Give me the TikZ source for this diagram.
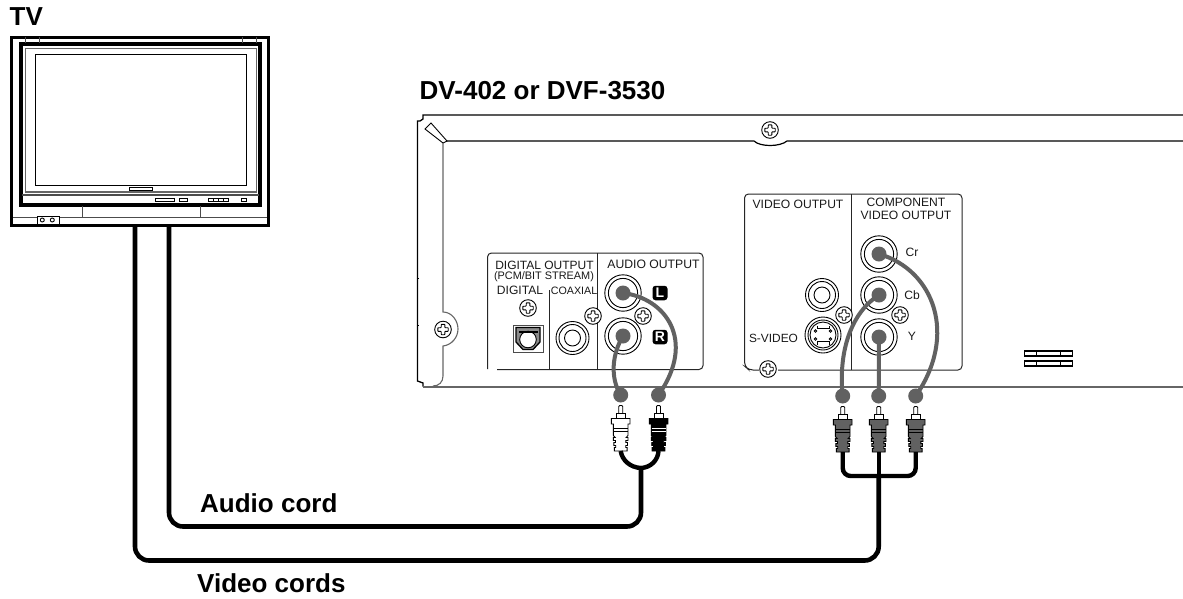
\documentclass[tikz,border=0pt]{standalone}
\usepackage{fontspec}
\setmainfont{Liberation Sans}
\tikzset{
  thin line/.style={line width=1pt,black!85},
  gray line/.style={line width=1.3pt,black!60},
  tvheavy/.style={line width=3.4pt,black},
  small/.style={line width=0.9pt,black},
  cord/.style={line width=4.6pt,black,rounded corners=14pt},
  fork/.style={line width=4.4pt,black,rounded corners=8pt},
  lead/.style={line width=4pt,black!62,line cap=round},
  dot/.style={circle,fill=black!62,inner sep=0pt,minimum size=15pt},
  title/.style={anchor=west,inner sep=0pt,font=\fontsize{26}{26}\bfseries},
  lab/.style={inner sep=0pt,font=\fontsize{12.1}{13}\selectfont,black!90,align=center},
  badge/.style={rectangle,rounded corners=3pt,fill=black,text=white,inner sep=0pt,minimum width=15pt,minimum height=14.5pt,font=\fontsize{14}{14}\bfseries},
  screw/.pic={
    \draw[line width=.9pt,fill=white] (0,0) circle (8.3);
    \draw[line width=.9pt,fill=white,rounded corners=.6pt]
      (-1.8,-5.2)--(1.8,-5.2)--(1.8,-1.8)--(5.2,-1.8)--(5.2,1.8)--(1.8,1.8)--(1.8,5.2)--(-1.8,5.2)--(-1.8,1.8)--(-5.2,1.8)--(-5.2,-1.8)--(-1.8,-1.8)--cycle;
  },
  jack/.pic={
    \draw[line width=.9pt,fill=white] (0,0) circle (18.2);
    \draw[line width=.9pt] (0,0) circle (14.6);
  },
  rca/.pic={
    \draw[line width=.9pt,fill=white] (0,0) circle (16.5);
    \draw[line width=.9pt] (0,0) circle (13.5);
    \draw[line width=.9pt] (0,0) circle (8);
  },
}
\newcommand{\plugdraw}[4]{%
  \begin{scope}[shift={(#1,#2)}]
    \draw[line width=.9pt,fill=white] (-2,8)--(-2,1)--(-1,0)--(1,0)--(2,1)--(2,8)--cycle;
    \draw[line width=.9pt,fill=white] (-4.5,14)--(-4.5,7.5)--(4.5,7.5)--(4.5,14)--cycle;
    \fill[#3,draw=black,line width=.9pt] (-9.3,13)--(9.3,13)--(9.3,18.5)--(7.3,18.5)--(7.3,30)--(5.5,32)--(7.3,32)--(7.3,35)--(5.2,35)--(5.2,37)--(6.8,37)--(6.8,40)--(5,40)--(5,42)--(6.4,42)--(6.4,45.5)--(-6.4,45.5)--(-6.4,42)--(-5,42)--(-5,40)--(-6.8,40)--(-6.8,37)--(-5.2,37)--(-5.2,35)--(-7.3,35)--(-7.3,32)--(-5.5,32)--(-7.3,30)--(-7.3,18.5)--(-9.3,18.5)--cycle;
    \draw[line width=1pt,#4] (-7,22.5)--(7,22.5) (-7,25.5)--(7,25.5);
  \end{scope}}
\begin{document}
\begin{tikzpicture}[x=1pt,y=-1pt]
\useasboundingbox (0,0) rectangle (1183,598);
\fill[white] (0,0) rectangle (1183,598);

% ---- labels
\node[title] (tvlabel) at (9.5,17) {TV};
\node[title] (dvlabel) at (419.5,91) {DV-402 or DVF-3530};
\node[title] (audiolabel) at (200,503) {Audio cord};
\node[title] (videolabel) at (197,583.5) {Video cords};

% ---- TV
\coordinate (tvA) at (135,225);
\coordinate (tvB) at (169,225);
\draw[tvheavy] (11.5,37.5) rectangle (268.5,225.5);
\draw[tvheavy] (21,44) rectangle (260,205);
\draw[gray line,line width=1.2pt] (25.5,48.5) rectangle (256.5,192);
\draw[line width=1.1pt] (35.3,54.3) rectangle (246.7,185.7);
\draw[small,fill=white] (129.5,187) rectangle (152.7,190.8);
\draw[line width=1.2pt,black!70] (22,195) -- (259,195);
\foreach \a/\b in {155.5/174.5,179.5/187,241.5/246.5}
  \draw[small] (\a,198.2) rectangle (\b,201.6);
\draw[small] (208.5,198) rectangle (228,201.4);
\foreach \a in {213.5,218.5,223.5} \draw[small] (\a,198) -- (\a,201.4);
\foreach \a in {25.5,39.5,242.5,256.5} \draw[small,black!70] (\a,37) -- (\a,43);
\draw[small,black!70] (13,217.5) -- (267,217.5) (82,206) -- (82,217.5) (200,206) -- (200,217.5);
\draw[small,fill=white] (37,216) rectangle (59,224);
\draw[small] (42.3,220) circle (2) (52.3,220) circle (2);

% ---- chassis
\draw[line width=1.3pt] (1183,115) -- (423,115) -- (423,119) -- (420,121) -- (417.5,121) -- (417.5,381) -- (423,383) -- (423,386.5);
\draw[small] (417.5,278) -- (419,278) (417.5,325) -- (419,325);
\draw[gray line] (423,387) -- (1183,387);
\draw[line width=1.2pt] (1183,141) -- (787,141) .. controls (780,147) and (760,147) .. (754,141) -- (444,141);
\draw[small,fill=white] (425,129) -- (431,123) -- (447,141) -- (443,143) -- cycle;
\draw[gray line,line width=1.1pt] (443,143) -- (443,312) .. controls (452,312) and (458,321) .. (458,329) .. controls (458,337) and (452,345) .. (443,346) -- (443,376) .. controls (443,382) and (439,386) .. (433,386);
\pic at (443,329.5) {screw};
\pic at (770,130) {screw};
\foreach \y in {351,361} {
  \draw[line width=1.1pt] (1024.5,\y) rectangle (1072.5,\y+5);
  \draw[small] (1036.5,\y) -- (1036.5,\y+5) (1060,\y) -- (1060,\y+5);
}

% ---- audio panel
\draw[thin line,rounded corners=4pt] (487.5,369) -- (487.5,253) -- (703,253) -- (703,369.5) -- (497,369.5);
\draw[thin line] (597.5,253) -- (597.5,369.5) (549.5,290) -- (549.5,369.5);
\node[lab,font=\fontsize{12}{13}\selectfont] (dout) at (544.5,265) {DIGITAL OUTPUT};
\node[lab,font=\fontsize{10.9}{11}\selectfont] (pcm) at (544,276.5) {(PCM/BIT STREAM)};
\node[lab] (dig) at (520,290.5) {DIGITAL};
\node[lab,font=\fontsize{10.7}{11}\selectfont] (coax) at (574,290.5) {COAXIAL};
\node[lab,font=\fontsize{12.2}{13}\selectfont] (aout) at (653.5,264.5) {AUDIO OUTPUT};
\pic at (528,308) {screw};
% optical
\draw[small,black!70,fill=white] (513,325) rectangle (543,352);
\draw[line width=1.3pt,fill=black!45] (516,327.5) -- (540,327.5) -- (540,342) -- (533,349.5) -- (523,349.5) -- (516,342) -- cycle;
\draw[small,fill=white] (528,339.5) circle (8.3);
\draw[small,fill=white] (519,331) -- (537,331) -- (537,332.5) -- (519,332.5) -- cycle;
\pic at (572.5,338) {rca};
\pic at (623,293) {jack};
\pic at (623,336) {jack};
\pic at (593,316) {screw};
\pic at (643,316) {screw};
\node[badge] (lbadge) at (660,293) {L};
\node[badge] (rbadge) at (660,337) {R};

% ---- video panel
\draw[thin line,rounded corners=4pt] (759,370) -- (749,370) -- (744.5,366) -- (744.5,194) -- (962,194) -- (962,370) -- (778,370);
\draw[thin line] (851,194) -- (851,370);
\node[lab] (vout) at (798,204) {VIDEO OUTPUT};
\node[lab] (comp) at (906,202.5) {COMPONENT};
\node[lab] (cvout) at (906,215.5) {VIDEO OUTPUT};
\node[lab] (cr) at (912,252.5) {Cr};
\node[lab] (cb) at (912,295) {Cb};
\node[lab] (yl) at (912,336) {Y};
\node[lab,font=\fontsize{11.9}{13}\selectfont] (sv) at (773.5,338) {S-VIDEO};
\pic at (768,369) {screw};
\pic at (822,295) {rca};
\draw[line width=.9pt,fill=white] (823,335) circle (18);
\draw[line width=.9pt] (823,335) circle (15);
\draw[line width=.9pt] (823,335) circle (13);
\draw[line width=.9pt] (817,325.5) -- (817,328) -- (829,328) -- (829,325.5) (817,345) -- (817,341.5) -- (829,341.5) -- (829,345);
\foreach \a/\b in {815.5/331,830.5/331,815.5/339,830.5/339} \draw[line width=.8pt] (\a,\b) circle (1.3);
\pic at (879,254) {jack};
\pic at (879,295) {jack};
\pic at (879,337) {jack};
\pic at (844,315) {screw};
\pic at (900,315) {screw};

% ---- plugs
\plugdraw{620.7}{405.5}{white}{black}
\plugdraw{658.5}{405.5}{black}{white}
\plugdraw{842.7}{406.5}{black!62}{black}
\plugdraw{878.7}{406.5}{black!62}{black}
\plugdraw{915.7}{406.5}{black!62}{black}

% ---- named ends
\coordinate (jL) at (623,293);
\coordinate (jR) at (623,336);
\coordinate (jCr) at (879,254);
\coordinate (jCb) at (879,295);
\coordinate (jY) at (879,337);
\node[dot] (dW) at (620.7,395) {};
\node[dot] (dK) at (658.5,395) {};
\node[dot] (d1) at (842.7,396) {};
\node[dot] (d2) at (878.7,396) {};
\node[dot] (d3) at (915.7,396) {};
\node[dot] at (jL) {};
\node[dot] at (jR) {};
\node[dot] at (jCr) {};
\node[dot] at (jCb) {};
\node[dot] at (jY) {};

% ---- grey leads
\draw[lead] (jL) .. controls (665,298) and (697,340) .. (dK.center);
\draw[lead] (jR) .. controls (612,354) and (610,378) .. (dW.center);
\draw[lead] (jCr) .. controls (934,270) and (958,335) .. (d3.center);
\draw[lead] (jCb) .. controls (852,312) and (838,350) .. (d1.center);
\draw[lead] (jY) -- (d2.center);

% ---- black cords
\coordinate (pW) at (620.7,451);
\coordinate (pK) at (658.5,451);
\coordinate (p1) at (842.7,452);
\coordinate (p2) at (878.7,452);
\coordinate (p3) at (915.7,452);
\coordinate (joinA) at (641,468);
\coordinate (joinV) at (878.7,476);
\draw[line width=4.4pt] (pW) .. controls (622,460) and (630,467.5) .. (joinA) .. controls (651,467.5) and (658,460) .. (pK);
\draw[fork] (p1) |- (joinV) -| (p3);
\draw[line width=4.4pt] (p2) -- (joinV);
\draw[cord] (tvB) |- (641,526.5) -- (joinA);
\draw[cord] (tvA) |- (878.7,560.5) -- (joinV);
\end{tikzpicture}
\end{document}
